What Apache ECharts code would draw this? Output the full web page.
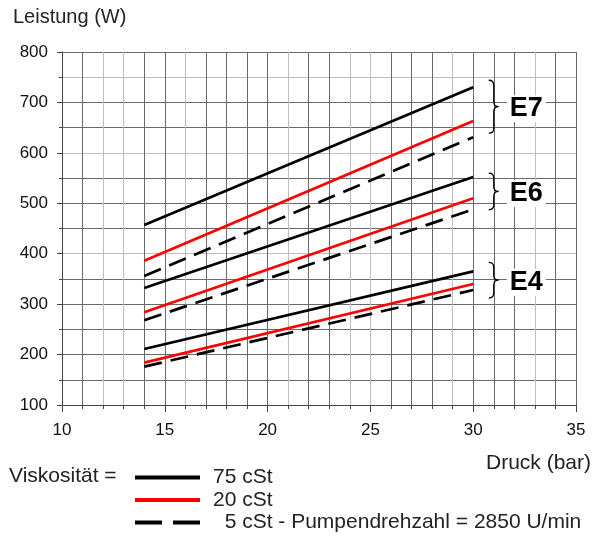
<!DOCTYPE html>
<html><head><meta charset="utf-8">
<script src="https://cdn.jsdelivr.net/npm/echarts/dist/echarts.min.js"></script>
<style>html,body{margin:0;padding:0;background:#fff}#c{width:608px;height:537px}</style>
</head><body><div id="c"></div>
<script>
// Pressure (bar) at the line ends
const pressure = [14, 30];
// Power (W) for each pump type and viscosity
const e7_75 = [457, 730];
const e7_20 = [386, 663];
const e7_5  = [356, 631];
const e6_75 = [332, 552];
const e6_20 = [284, 510];
const e6_5  = [268, 488];
const e4_75 = [211, 365];
const e4_20 = [184, 340];
const e4_5  = [176, 328];
// Brace annotations: label, x position, top, bottom (W)
const braceLabels = ['E7', 'E6', 'E4'];
const braceX = [31, 31, 31];
const braceTop = [744, 560, 383];
const braceBottom = [639, 487, 312];
// Legend names
const viscNames = ['75 cSt', '20 cSt', '5 cSt'];
const xTicks = [10, 15, 20, 25, 30, 35];
const yTicks = [100, 200, 300, 400, 500, 600, 700, 800];

const FONT = '"Liberation Sans", Arial, sans-serif';
const DARK = '#6a6a6a', LIGHT = '#bdbdbd';
const xLight = [12, 13, 16, 21, 24, 25, 29, 33];
const xColors = [];
for (let v = 10; v <= 35; v++) xColors.push(xLight.includes(v) ? LIGHT : DARK);
const yLight = [400, 600, 750];
const yColors = [];
for (let v = 100; v <= 800; v += 50) yColors.push(yLight.includes(v) ? LIGHT : DARK);

function pts(arr) { return pressure.map((p, i) => [p, arr[i]]); }
function mk(name, arr, color, dashed) {
  return {
    type: 'line', name: name, data: pts(arr), xAxisIndex: 0, yAxisIndex: 0,
    symbol: 'none', silent: true, z: 5,
    lineStyle: { color: color, width: 2.7, type: dashed ? [18, 9] : 'solid', cap: 'butt' },
    itemStyle: { color: color }
  };
}

const SOLID_ICON = 'path://M0,0H65V4H0Z';
const DASH_ICON = 'path://M0,0H27V4H0Z M38,0H65V4H38Z';

const chart = echarts.init(document.getElementById('c'), null, { renderer: 'canvas' });
chart.setOption({
  animation: false,
  backgroundColor: '#fff',
  grid: { left: 62, right: 32, top: 52, bottom: 132 },
  xAxis: [
    { type: 'value', min: 10, max: 35, interval: 1,
      axisLine: { show: true, lineStyle: { color: '#444', width: 1 } },
      axisTick: { show: true, length: 4, lineStyle: { color: '#444' } },
      axisLabel: { show: false },
      splitLine: { show: true, lineStyle: { color: xColors, width: 1 } } },
    { type: 'value', min: 10, max: 35, interval: 5, position: 'bottom',
      axisLine: { show: false },
      axisTick: { show: true, length: 7, lineStyle: { color: '#444' } },
      axisLabel: { show: true, fontSize: 17, color: '#111', fontFamily: FONT, margin: 17,
        formatter: v => xTicks.includes(v) ? String(v) : '' },
      splitLine: { show: false } }
  ],
  yAxis: [
    { type: 'value', min: 100, max: 800, interval: 50,
      axisLine: { show: true, lineStyle: { color: '#444', width: 1 } },
      axisTick: { show: true, length: 3, lineStyle: { color: '#444' } },
      axisLabel: { show: false },
      splitLine: { show: true, lineStyle: { color: yColors, width: 1 } } },
    { type: 'value', min: 100, max: 800, interval: 100, position: 'left',
      axisLine: { show: false },
      axisTick: { show: true, length: 5, lineStyle: { color: '#444' } },
      axisLabel: { show: true, fontSize: 17, color: '#111', fontFamily: FONT, margin: 14,
        formatter: v => yTicks.includes(v) ? String(v) : '' },
      splitLine: { show: false } }
  ],
  legend: {
    orient: 'vertical', left: 135, top: 467, height: 100, padding: 0,
    itemWidth: 65, itemHeight: 4, itemGap: 1.5,
    selectedMode: false,
    data: [
      { name: viscNames[0], icon: SOLID_ICON, itemStyle: { color: '#000' } },
      { name: viscNames[1], icon: SOLID_ICON, itemStyle: { color: '#ff0000' } },
      { name: viscNames[2], icon: DASH_ICON, itemStyle: { color: '#000' } }
    ],
    textStyle: { fontSize: 21, lineHeight: 21, color: '#222', fontFamily: FONT, padding: [0, 0, 0, 8] },
    formatter: n => n === '5 cSt' ? '  5 cSt - Pumpendrehzahl = 2850 U/min' : n
  },
  graphic: [
    { type: 'text', left: 13, top: 7, style: { text: 'Leistung (W)', font: '20px ' + FONT, fill: '#222' } },
    { type: 'text', right: 17, top: 453, style: { text: 'Druck (bar)', font: '21px ' + FONT, fill: '#222' } },
    { type: 'text', left: 9, top: 466, style: { text: 'Viskosität =', font: '21px ' + FONT, fill: '#222' } }
  ],
  series: [
    mk(viscNames[0], e7_75, '#000', false),
    mk(viscNames[1], e7_20, '#ff0000', false),
    mk(viscNames[2], e7_5, '#000', true),
    mk(viscNames[0], e6_75, '#000', false),
    mk(viscNames[1], e6_20, '#ff0000', false),
    mk(viscNames[2], e6_5, '#000', true),
    mk(viscNames[0], e4_75, '#000', false),
    mk(viscNames[1], e4_20, '#ff0000', false),
    mk(viscNames[2], e4_5, '#000', true),
    {
      type: 'custom', name: 'braces', xAxisIndex: 0, yAxisIndex: 0, silent: true, z: 6,
      encode: { x: 0, y: [1, 2] },
      data: braceLabels.map((l, i) => [braceX[i], braceTop[i], braceBottom[i], l]),
      renderItem: function (params, api) {
        const top = api.coord([api.value(0), api.value(1)]);
        const bot = api.coord([api.value(0), api.value(2)]);
        const x = top[0], yt = top[1], yb = bot[1], ym = (yt + yb) / 2;
        const r = 5;
        const d = 'M' + (x - r) + ' ' + yt + ' Q' + x + ' ' + yt + ' ' + x + ' ' + (yt + r) +
          ' L' + x + ' ' + (ym - r) + ' Q' + x + ' ' + ym + ' ' + (x + r) + ' ' + ym +
          ' Q' + x + ' ' + ym + ' ' + x + ' ' + (ym + r) +
          ' L' + x + ' ' + (yb - r) + ' Q' + x + ' ' + yb + ' ' + (x - r) + ' ' + yb;
        return {
          type: 'group',
          children: [
            { type: 'path', shape: { pathData: d }, style: { fill: 'none', stroke: '#000', lineWidth: 1.3 } },
            { type: 'text', x: x + 13, y: ym + 2,
              style: { text: api.value(3), font: 'bold 27px ' + FONT, fill: '#000',
                       textAlign: 'left', textVerticalAlign: 'middle',
                       backgroundColor: '#fff', padding: [0, 3, 0, 3] } }
          ]
        };
      }
    }
  ]
});
</script></body></html>
